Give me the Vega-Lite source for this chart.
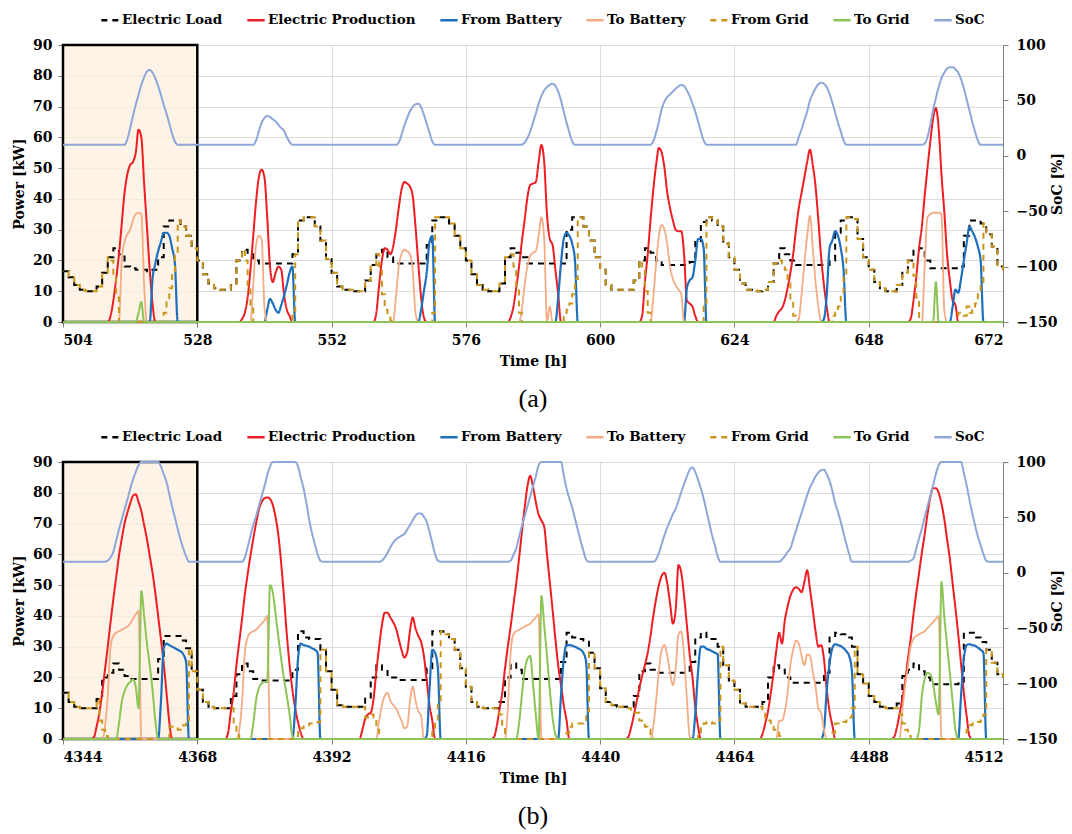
{
"$schema":"https://vega.github.io/schema/vega-lite/v6.json",
"background":"white",
"padding":{"left":12,"top":9,"right":0,"bottom":0},
"bounds":"flush",
"spacing":140,
"config":{
"view":{"stroke":"#808080","strokeWidth":1},
"axis":{"labelFont":"DejaVu Serif","labelFontSize":14,"labelFontWeight":"bold","labelColor":"#000","titleFont":"DejaVu Serif","titleFontSize":14,"titleFontWeight":"bold","titleColor":"#000","domainColor":"#7f7f7f","tickColor":"#7f7f7f","gridColor":"#dcdcdc","tickSize":5},
"legend":{"labelFont":"DejaVu Serif","labelFontSize":13.5,"labelFontWeight":"bold","labelColor":"#000","labelLimit":400},
"title":{"font":"Liberation Serif"}
},
"resolve":{"scale":{"color":"independent","strokeDash":"independent"},"legend":{"color":"independent","strokeDash":"independent"}},
"datasets":{
"aL":[{"t":504,"v":16.5},{"t":505,"v":14.5},{"t":506,"v":12},{"t":507,"v":10.5},{"t":508,"v":10},{"t":509,"v":10},{"t":510,"v":11.5},{"t":511,"v":16},{"t":512,"v":21},{"t":513,"v":24},{"t":514,"v":22},{"t":515,"v":18},{"t":516,"v":17.5},{"t":517,"v":17},{"t":518,"v":17},{"t":519,"v":16.5},{"t":520,"v":17},{"t":521,"v":21},{"t":522,"v":31},{"t":523,"v":33},{"t":524,"v":33},{"t":525,"v":31},{"t":526,"v":28},{"t":527,"v":24},
{"t":528,"v":20},{"t":529,"v":15.5},{"t":530,"v":12.5},{"t":531,"v":11},{"t":532,"v":10.5},{"t":533,"v":10.5},{"t":534,"v":12},{"t":535,"v":20},{"t":536,"v":23.5},{"t":537,"v":22},{"t":538,"v":20},{"t":539,"v":19},{"t":544,"v":19},{"t":545,"v":22},{"t":546,"v":33},{"t":547,"v":34},{"t":548,"v":34},{"t":549,"v":31},{"t":550,"v":26.5},{"t":551,"v":20.5},
{"t":552,"v":16},{"t":553,"v":11.5},{"t":554,"v":10.5},{"t":555,"v":10.5},{"t":556,"v":10},{"t":557,"v":10},{"t":558,"v":13.5},{"t":559,"v":18.5},{"t":560,"v":22},{"t":561,"v":23.5},{"t":562,"v":21},{"t":563,"v":19},{"t":568,"v":19},{"t":569,"v":25},{"t":570,"v":33},{"t":571,"v":34},{"t":572,"v":34},{"t":573,"v":32},{"t":574,"v":28},{"t":575,"v":24},
{"t":576,"v":20},{"t":577,"v":15.5},{"t":578,"v":12},{"t":579,"v":10.5},{"t":580,"v":10},{"t":581,"v":10},{"t":582,"v":12.5},{"t":583,"v":21},{"t":584,"v":24},{"t":585,"v":22.5},{"t":586,"v":21},{"t":587,"v":19},{"t":593,"v":19},{"t":594,"v":30},{"t":595,"v":34},{"t":596,"v":34},{"t":597,"v":31},{"t":598,"v":26.5},{"t":599,"v":21},
{"t":600,"v":17},{"t":601,"v":12},{"t":602,"v":10.5},{"t":606,"v":13.5},{"t":607,"v":20},{"t":608,"v":24},{"t":609,"v":22.5},{"t":610,"v":20},{"t":611,"v":18.5},{"t":616,"v":19.5},{"t":617,"v":26},{"t":618,"v":32.5},{"t":619,"v":34},{"t":620,"v":33},{"t":621,"v":31},{"t":622,"v":25.5},{"t":623,"v":21},
{"t":624,"v":17},{"t":625,"v":12.5},{"t":626,"v":10.5},{"t":628,"v":10},{"t":629,"v":10.5},{"t":630,"v":13},{"t":631,"v":19},{"t":632,"v":24},{"t":633,"v":22},{"t":634,"v":20},{"t":635,"v":18.5},{"t":641,"v":20},{"t":642,"v":29},{"t":643,"v":33},{"t":644,"v":34},{"t":645,"v":33.5},{"t":646,"v":27},{"t":647,"v":21},
{"t":648,"v":17},{"t":649,"v":13},{"t":650,"v":11},{"t":651,"v":10},{"t":653,"v":12},{"t":654,"v":16},{"t":655,"v":20},{"t":656,"v":23.5},{"t":657,"v":24},{"t":658,"v":20},{"t":659,"v":17.5},{"t":664,"v":18},{"t":665,"v":28},{"t":666,"v":33},{"t":667,"v":33},{"t":668,"v":32},{"t":669,"v":28.5},{"t":670,"v":24.5},{"t":671,"v":18},{"t":672,"v":17}],
"aP":[{"t":504,"v":0},{"t":512,"v":0},{"t":512.5,"v":2},{"t":513,"v":7},{"t":513.5,"v":14},{"t":514,"v":22},{"t":514.5,"v":32},{"t":515,"v":42},{"t":515.5,"v":48},{"t":516,"v":51},{"t":516.5,"v":52},{"t":517,"v":55},{"t":517.5,"v":62.5},{"t":518,"v":60},{"t":518.5,"v":45},{"t":519,"v":31},{"t":519.5,"v":17},{"t":520,"v":6},{"t":520.5,"v":0},
{"t":535.5,"v":0},{"t":536,"v":1},{"t":536.5,"v":3},{"t":537,"v":8},{"t":537.5,"v":17},{"t":538,"v":28},{"t":538.5,"v":39},{"t":539,"v":47},{"t":539.5,"v":49.5},{"t":540,"v":47},{"t":540.5,"v":34},{"t":541,"v":18},{"t":541.5,"v":13},{"t":542,"v":16},{"t":542.5,"v":18},{"t":543,"v":17},{"t":543.5,"v":9},{"t":544,"v":4},{"t":544.5,"v":2},{"t":545,"v":0},
{"t":559.5,"v":0},{"t":560,"v":3},{"t":560.5,"v":12},{"t":561,"v":20},{"t":561.5,"v":24},{"t":562,"v":23.5},{"t":562.5,"v":22},{"t":563,"v":24.5},{"t":563.5,"v":30},{"t":564,"v":37},{"t":564.5,"v":43},{"t":565,"v":45.5},{"t":565.5,"v":45},{"t":566,"v":44},{"t":566.5,"v":41},{"t":567,"v":31},{"t":567.5,"v":19},{"t":568,"v":8},{"t":568.5,"v":1.5},{"t":569,"v":0},
{"t":583.5,"v":0},{"t":584,"v":1.5},{"t":584.5,"v":5},{"t":585,"v":11},{"t":585.5,"v":18},{"t":586,"v":26},{"t":586.5,"v":33},{"t":587,"v":40.5},{"t":587.5,"v":44.5},{"t":588,"v":45},{"t":588.5,"v":45.5},{"t":589,"v":52},{"t":589.5,"v":57.5},{"t":590,"v":52},{"t":590.5,"v":35},{"t":591,"v":27},{"t":591.5,"v":25},{"t":592,"v":17},{"t":592.5,"v":9},{"t":593,"v":0},
{"t":607,"v":0},{"t":607.5,"v":2},{"t":608,"v":13},{"t":608.5,"v":22},{"t":609,"v":33},{"t":609.5,"v":43},{"t":610,"v":51},{"t":610.5,"v":56.5},{"t":611,"v":55},{"t":611.5,"v":50},{"t":612,"v":42},{"t":612.5,"v":37},{"t":613,"v":33},{"t":613.5,"v":30},{"t":614,"v":29.5},{"t":614.5,"v":29.5},{"t":615,"v":22},{"t":615.5,"v":7},{"t":616,"v":6},{"t":616.5,"v":5},{"t":617,"v":2},{"t":617.5,"v":0},
{"t":631,"v":0},{"t":631.5,"v":2},{"t":632,"v":3.5},{"t":632.5,"v":4.5},{"t":633,"v":7},{"t":633.5,"v":11},{"t":634,"v":16},{"t":634.5,"v":22},{"t":635,"v":30},{"t":635.5,"v":37},{"t":636,"v":42},{"t":636.5,"v":47},{"t":637,"v":52},{"t":637.5,"v":56},{"t":638,"v":51},{"t":638.5,"v":44},{"t":639,"v":33},{"t":639.5,"v":21},{"t":640,"v":12},{"t":640.5,"v":5},{"t":641,"v":0},
{"t":655,"v":0},{"t":655.5,"v":1},{"t":656,"v":7},{"t":656.5,"v":14.5},{"t":657,"v":24},{"t":657.5,"v":31},{"t":658,"v":41},{"t":658.5,"v":50},{"t":659,"v":58.5},{"t":659.5,"v":66},{"t":660,"v":69.5},{"t":660.5,"v":63},{"t":661,"v":48},{"t":661.5,"v":36},{"t":662,"v":22},{"t":662.5,"v":13.5},{"t":663,"v":7},{"t":663.5,"v":5.5},{"t":664,"v":0},{"t":672,"v":0}],
"aFB":[{"t":504,"v":0},{"t":519.5,"v":0},{"t":520,"v":14},{"t":520.5,"v":19},{"t":521,"v":23},{"t":521.5,"v":26},{"t":522,"v":29},{"t":522.5,"v":29},{"t":523,"v":28},{"t":523.5,"v":24},{"t":524,"v":19},{"t":524.5,"v":0},
{"t":540,"v":0},{"t":540.5,"v":4},{"t":541,"v":7.5},{"t":541.5,"v":6},{"t":542,"v":4},{"t":542.5,"v":3},{"t":543,"v":5.5},{"t":543.5,"v":8.5},{"t":544,"v":12},{"t":544.5,"v":16},{"t":545,"v":18},{"t":545.5,"v":0},
{"t":567.5,"v":0},{"t":568,"v":4},{"t":568.5,"v":10},{"t":569,"v":16},{"t":569.5,"v":26},{"t":570,"v":28},{"t":570.5,"v":0},
{"t":592,"v":0},{"t":592.5,"v":8},{"t":593,"v":19},{"t":593.5,"v":27},{"t":594,"v":29},{"t":594.5,"v":28},{"t":595,"v":25.5},{"t":595.5,"v":20},{"t":596,"v":0},
{"t":615,"v":0},{"t":615.5,"v":11},{"t":616,"v":13.5},{"t":616.5,"v":14.5},{"t":617,"v":20},{"t":617.5,"v":27},{"t":618,"v":27},{"t":618.5,"v":24},{"t":619,"v":0},
{"t":639.5,"v":0},{"t":640,"v":1},{"t":640.5,"v":9},{"t":641,"v":24},{"t":641.5,"v":26.5},{"t":642,"v":29.5},{"t":642.5,"v":28},{"t":643,"v":24},{"t":643.5,"v":17},{"t":644,"v":0},
{"t":662.5,"v":0},{"t":663,"v":5},{"t":663.5,"v":10.5},{"t":664,"v":9.5},{"t":664.5,"v":14},{"t":665,"v":20},{"t":665.5,"v":25.5},{"t":666,"v":31},{"t":666.5,"v":29.5},{"t":667,"v":27.5},{"t":667.5,"v":24.5},{"t":668,"v":20},{"t":668.5,"v":0},{"t":672,"v":0}],
"aTB":[{"t":504,"v":0},{"t":514,"v":0},{"t":514.5,"v":20},{"t":515,"v":26},{"t":515.5,"v":28.5},{"t":516,"v":30},{"t":516.5,"v":33},{"t":517,"v":35},{"t":517.5,"v":35.5},{"t":518,"v":35},{"t":518.5,"v":12},{"t":519,"v":0},
{"t":537.5,"v":0},{"t":538,"v":12},{"t":538.5,"v":25},{"t":539,"v":28},{"t":539.5,"v":27},{"t":540,"v":5},{"t":540.5,"v":0},
{"t":563,"v":0},{"t":563.5,"v":8},{"t":564,"v":18},{"t":564.5,"v":22},{"t":565,"v":23.5},{"t":565.5,"v":23},{"t":566,"v":22},{"t":566.5,"v":17},{"t":567,"v":3},{"t":567.5,"v":0},
{"t":585.5,"v":0},{"t":586,"v":4},{"t":586.5,"v":12},{"t":587,"v":18},{"t":587.5,"v":21.5},{"t":588,"v":22.5},{"t":588.5,"v":23},{"t":589,"v":28},{"t":589.5,"v":34},{"t":590,"v":27},{"t":590.5,"v":0},{"t":591,"v":5},{"t":591.5,"v":0},
{"t":609,"v":0},{"t":609.5,"v":8},{"t":610,"v":19},{"t":610.5,"v":28},{"t":611,"v":31.5},{"t":611.5,"v":30},{"t":612,"v":25},{"t":612.5,"v":18},{"t":613,"v":14},{"t":613.5,"v":12},{"t":614,"v":10.5},{"t":614.5,"v":9},{"t":615,"v":0},
{"t":635,"v":0},{"t":635.5,"v":1},{"t":636,"v":9},{"t":636.5,"v":19},{"t":637,"v":28},{"t":637.5,"v":34.5},{"t":638,"v":24},{"t":638.5,"v":13},{"t":639,"v":5},{"t":639.5,"v":0},
{"t":657.5,"v":0},{"t":658,"v":18},{"t":658.5,"v":34},{"t":659,"v":35},{"t":659.5,"v":35.5},{"t":660,"v":35.5},{"t":660.5,"v":35.5},{"t":661,"v":35},{"t":661.5,"v":4},{"t":662,"v":0},{"t":672,"v":0}],
"aFG":[{"t":504,"v":16.5},{"t":505,"v":14.5},{"t":506,"v":12},{"t":507,"v":10.5},{"t":508,"v":10},{"t":510,"v":11.5},{"t":511,"v":16},{"t":512,"v":21},{"t":512.5,"v":20},{"t":513,"v":15},{"t":513.5,"v":8},{"t":514,"v":0},{"t":522,"v":3},{"t":522.5,"v":7},{"t":523,"v":11},{"t":523.5,"v":16},{"t":524,"v":22},{"t":524.5,"v":33},{"t":525,"v":31},{"t":526,"v":28},{"t":527,"v":24},
{"t":528,"v":20},{"t":529,"v":15.5},{"t":530,"v":12.5},{"t":531,"v":11},{"t":532,"v":10.5},{"t":534,"v":12},{"t":535,"v":20},{"t":536,"v":23.5},{"t":536.5,"v":20},{"t":537,"v":12},{"t":537.5,"v":5},{"t":538,"v":0},{"t":545,"v":2},{"t":545.5,"v":22},{"t":546,"v":33},{"t":547,"v":34},{"t":549,"v":31},{"t":550,"v":26.5},{"t":551,"v":20.5},
{"t":552,"v":16},{"t":553,"v":11.5},{"t":554,"v":10.5},{"t":556,"v":10},{"t":558,"v":13.5},{"t":559,"v":18.5},{"t":560,"v":22},{"t":560.5,"v":17},{"t":561,"v":9},{"t":561.5,"v":4},{"t":562,"v":1.5},{"t":562.5,"v":0.5},{"t":563,"v":0},{"t":570,"v":3},{"t":570.5,"v":34},{"t":573,"v":32},{"t":574,"v":28},{"t":575,"v":24},
{"t":576,"v":20},{"t":577,"v":15.5},{"t":578,"v":12},{"t":579,"v":10.5},{"t":580,"v":10},{"t":582,"v":12.5},{"t":583,"v":21},{"t":584,"v":22},{"t":584.5,"v":18},{"t":585,"v":11},{"t":585.5,"v":3},{"t":586,"v":0},{"t":593.5,"v":2},{"t":594,"v":4},{"t":594.5,"v":6},{"t":595,"v":9},{"t":595.5,"v":14},{"t":596,"v":34},{"t":597,"v":31},{"t":598,"v":26.5},{"t":599,"v":21},
{"t":600,"v":17},{"t":601,"v":12},{"t":602,"v":10.5},{"t":606,"v":13.5},{"t":607,"v":20},{"t":607.5,"v":18},{"t":608,"v":10},{"t":608.5,"v":3},{"t":609,"v":0},{"t":618.5,"v":5},{"t":619,"v":34},{"t":620,"v":33},{"t":621,"v":31},{"t":622,"v":25.5},{"t":623,"v":21},
{"t":624,"v":17},{"t":625,"v":12.5},{"t":626,"v":10.5},{"t":628,"v":10},{"t":629,"v":10.5},{"t":630,"v":13},{"t":631,"v":19},{"t":632,"v":20},{"t":632.5,"v":19},{"t":633,"v":17},{"t":633.5,"v":13},{"t":634,"v":7},{"t":634.5,"v":2},{"t":635,"v":0},{"t":641.5,"v":2},{"t":642,"v":3},{"t":642.5,"v":5},{"t":643,"v":9},{"t":643.5,"v":15},{"t":644,"v":34},{"t":645,"v":33.5},{"t":646,"v":27},{"t":647,"v":21},
{"t":648,"v":17},{"t":649,"v":13},{"t":650,"v":11},{"t":651,"v":10},{"t":653,"v":12},{"t":654,"v":16},{"t":655,"v":20},{"t":656,"v":15},{"t":656.5,"v":8},{"t":657,"v":0},{"t":664,"v":3},{"t":665,"v":2},{"t":665.5,"v":5},{"t":666,"v":3},{"t":666.5,"v":4},{"t":667,"v":6},{"t":667.5,"v":9},{"t":668,"v":13},{"t":668.5,"v":32},{"t":669,"v":28.5},{"t":670,"v":24.5},{"t":671,"v":18},{"t":672,"v":17}],
"aTG":[{"t":504,"v":0},{"t":517,"v":0},{"t":517.5,"v":3},{"t":518,"v":6.5},{"t":518.5,"v":0},{"t":659.5,"v":0},{"t":660,"v":13},{"t":660.5,"v":0},{"t":672,"v":0}],
"aS":[{"t":504,"v":10},{"t":515,"v":10},{"t":515.5,"v":15},{"t":516,"v":25},{"t":516.5,"v":36},{"t":517,"v":46},{"t":517.5,"v":55},{"t":518,"v":64},{"t":518.5,"v":71},{"t":519,"v":76},{"t":519.5,"v":77.5},{"t":520,"v":75},{"t":520.5,"v":70},{"t":521,"v":63},{"t":521.5,"v":55},{"t":522,"v":46},{"t":522.5,"v":38},{"t":523,"v":29},{"t":523.5,"v":20},{"t":524,"v":13},{"t":524.5,"v":10},
{"t":538,"v":10},{"t":538.5,"v":14},{"t":539,"v":22},{"t":539.5,"v":30},{"t":540,"v":34},{"t":540.5,"v":36},{"t":541,"v":35},{"t":541.5,"v":33},{"t":542,"v":31},{"t":542.5,"v":28},{"t":543,"v":25},{"t":543.5,"v":22.5},{"t":544,"v":17},{"t":544.5,"v":12.5},{"t":545,"v":10},
{"t":563.5,"v":10},{"t":564,"v":12},{"t":564.5,"v":19},{"t":565,"v":27},{"t":565.5,"v":34},{"t":566,"v":40},{"t":566.5,"v":44},{"t":567,"v":46.5},{"t":567.5,"v":47},{"t":568,"v":44},{"t":568.5,"v":37},{"t":569,"v":29},{"t":569.5,"v":21},{"t":570,"v":13},{"t":570.5,"v":10},
{"t":586,"v":10},{"t":586.5,"v":12},{"t":587,"v":16},{"t":587.5,"v":22},{"t":588,"v":30},{"t":588.5,"v":38},{"t":589,"v":47},{"t":589.5,"v":54},{"t":590,"v":59},{"t":590.5,"v":62},{"t":591,"v":64},{"t":591.5,"v":65},{"t":592,"v":63},{"t":592.5,"v":58},{"t":593,"v":50},{"t":593.5,"v":40},{"t":594,"v":30},{"t":594.5,"v":21},{"t":595,"v":13},{"t":595.5,"v":10},
{"t":609,"v":10},{"t":609.5,"v":13},{"t":610,"v":21},{"t":610.5,"v":31},{"t":611,"v":42},{"t":611.5,"v":49},{"t":612,"v":53},{"t":612.5,"v":55.5},{"t":613,"v":58},{"t":613.5,"v":60.5},{"t":614,"v":62.5},{"t":614.5,"v":64},{"t":615,"v":63},{"t":615.5,"v":59},{"t":616,"v":54},{"t":616.5,"v":47},{"t":617,"v":40},{"t":617.5,"v":31},{"t":618,"v":22},{"t":618.5,"v":14},{"t":619,"v":10},
{"t":635,"v":10},{"t":635.5,"v":17},{"t":636,"v":24},{"t":636.5,"v":32},{"t":637,"v":40},{"t":637.5,"v":50},{"t":638,"v":56},{"t":638.5,"v":61},{"t":639,"v":64.5},{"t":639.5,"v":66},{"t":640,"v":65},{"t":640.5,"v":62},{"t":641,"v":56},{"t":641.5,"v":48},{"t":642,"v":39},{"t":642.5,"v":30},{"t":643,"v":22},{"t":643.5,"v":14},{"t":644,"v":10},
{"t":657.5,"v":10},{"t":658,"v":11},{"t":658.5,"v":17},{"t":659,"v":28},{"t":659.5,"v":41},{"t":660,"v":52},{"t":660.5,"v":62},{"t":661,"v":70},{"t":661.5,"v":75},{"t":662,"v":78.5},{"t":662.5,"v":80},{"t":663,"v":80},{"t":663.5,"v":78},{"t":664,"v":75},{"t":664.5,"v":69},{"t":665,"v":61},{"t":665.5,"v":51},{"t":666,"v":41},{"t":666.5,"v":31},{"t":667,"v":22},{"t":667.5,"v":14},{"t":668,"v":10},{"t":672,"v":10}],
"bL":[{"t":4344,"v":15},{"t":4345,"v":12},{"t":4346,"v":10.5},{"t":4347,"v":10},{"t":4350,"v":13},{"t":4351,"v":20},{"t":4352,"v":21.5},{"t":4353,"v":24.5},{"t":4354,"v":22.5},{"t":4355,"v":20.5},{"t":4356,"v":19.5},{"t":4361,"v":26},{"t":4362,"v":33.5},{"t":4365,"v":32},{"t":4366,"v":29.5},{"t":4367,"v":22},
{"t":4368,"v":16},{"t":4369,"v":12},{"t":4370,"v":10.5},{"t":4371,"v":10},{"t":4374,"v":14},{"t":4375,"v":21},{"t":4376,"v":24.5},{"t":4377,"v":22},{"t":4378,"v":19.5},{"t":4379,"v":19},{"t":4385,"v":22.5},{"t":4386,"v":35},{"t":4387,"v":33},{"t":4388,"v":32.5},{"t":4390,"v":29},{"t":4391,"v":22},
{"t":4392,"v":16},{"t":4393,"v":11},{"t":4394,"v":10.5},{"t":4398,"v":13.5},{"t":4399,"v":20},{"t":4400,"v":24},{"t":4401,"v":22.5},{"t":4402,"v":20},{"t":4404,"v":19.2},{"t":4409,"v":23},{"t":4410,"v":35},{"t":4412,"v":34},{"t":4413,"v":32.5},{"t":4414,"v":29},{"t":4415,"v":23},
{"t":4416,"v":17},{"t":4417,"v":12},{"t":4418,"v":10.5},{"t":4419,"v":10},{"t":4422,"v":12},{"t":4423,"v":20},{"t":4424,"v":24.5},{"t":4425,"v":22.5},{"t":4426,"v":19.5},{"t":4433,"v":25},{"t":4434,"v":34.5},{"t":4435,"v":33},{"t":4436,"v":32.5},{"t":4437,"v":32},{"t":4438,"v":28},{"t":4439,"v":23},
{"t":4440,"v":16.5},{"t":4441,"v":12},{"t":4442,"v":11},{"t":4443,"v":10.5},{"t":4446,"v":14},{"t":4447,"v":22},{"t":4448,"v":24.5},{"t":4449,"v":22.5},{"t":4450,"v":21.5},{"t":4456,"v":25},{"t":4457,"v":33},{"t":4458,"v":34.5},{"t":4459,"v":32.5},{"t":4461,"v":30},{"t":4462,"v":24},{"t":4463,"v":19},
{"t":4464,"v":16},{"t":4465,"v":11.5},{"t":4466,"v":10.5},{"t":4469,"v":12},{"t":4470,"v":20},{"t":4471,"v":24},{"t":4472,"v":22.5},{"t":4473,"v":20},{"t":4474,"v":18.3},{"t":4480,"v":21.5},{"t":4481,"v":33},{"t":4482,"v":34.5},{"t":4483,"v":34},{"t":4484,"v":33},{"t":4485,"v":30},{"t":4486,"v":21},{"t":4487,"v":18},
{"t":4488,"v":14},{"t":4489,"v":12},{"t":4490,"v":10.5},{"t":4491,"v":10},{"t":4493,"v":11.5},{"t":4494,"v":20.5},{"t":4495,"v":22.5},{"t":4496,"v":24.5},{"t":4497,"v":22},{"t":4498,"v":20},{"t":4499,"v":17.8},{"t":4504,"v":18},{"t":4505,"v":34.5},{"t":4507,"v":33},{"t":4508,"v":31.5},{"t":4509,"v":29},{"t":4510,"v":24.8},{"t":4511,"v":21},{"t":4512,"v":20}],
"bP":[{"t":4344,"v":0},{"t":4349,"v":0},{"t":4349.5,"v":0.5},{"t":4350,"v":4},{"t":4350.5,"v":8.5},{"t":4351,"v":15},{"t":4351.5,"v":22.5},{"t":4352,"v":30},{"t":4352.5,"v":38},{"t":4353,"v":45.5},{"t":4353.5,"v":52.5},{"t":4354,"v":59.5},{"t":4354.5,"v":65},{"t":4355,"v":70},{"t":4355.5,"v":73.5},{"t":4356,"v":76.5},{"t":4356.5,"v":79},{"t":4357,"v":79.5},{"t":4357.5,"v":77},{"t":4358,"v":74},{"t":4358.5,"v":69.5},{"t":4359,"v":65},{"t":4359.5,"v":59.5},{"t":4360,"v":54},{"t":4360.5,"v":47.5},{"t":4361,"v":40},{"t":4361.5,"v":32.5},{"t":4362,"v":24.5},{"t":4362.5,"v":15},{"t":4363,"v":5.5},{"t":4363.5,"v":0},
{"t":4373,"v":0},{"t":4373.5,"v":2},{"t":4374,"v":9},{"t":4374.5,"v":15},{"t":4375,"v":24},{"t":4375.5,"v":31.5},{"t":4376,"v":39},{"t":4376.5,"v":47},{"t":4377,"v":53.5},{"t":4377.5,"v":59.5},{"t":4378,"v":65},{"t":4378.5,"v":70},{"t":4379,"v":74.5},{"t":4379.5,"v":77},{"t":4380,"v":78.2},{"t":4380.5,"v":78.5},{"t":4381,"v":78},{"t":4381.5,"v":76},{"t":4382,"v":72},{"t":4382.5,"v":66},{"t":4383,"v":57},{"t":4383.5,"v":46},{"t":4384,"v":34},{"t":4384.5,"v":24},{"t":4385,"v":16},{"t":4385.5,"v":10},{"t":4386,"v":5.5},{"t":4386.5,"v":2},{"t":4387,"v":0},
{"t":4397,"v":0},{"t":4397.5,"v":3},{"t":4398,"v":6.5},{"t":4398.5,"v":8},{"t":4399,"v":8.5},{"t":4399.5,"v":13},{"t":4400,"v":22},{"t":4400.5,"v":30},{"t":4401,"v":37},{"t":4401.5,"v":41},{"t":4402,"v":41},{"t":4402.5,"v":39.5},{"t":4403,"v":38},{"t":4403.5,"v":36},{"t":4404,"v":32.5},{"t":4404.5,"v":29},{"t":4405,"v":26.5},{"t":4405.5,"v":28},{"t":4406,"v":35},{"t":4406.5,"v":39.5},{"t":4407,"v":36},{"t":4407.5,"v":33.5},{"t":4408,"v":31.5},{"t":4408.5,"v":27},{"t":4409,"v":19},{"t":4409.5,"v":11},{"t":4410,"v":6},{"t":4410.5,"v":0},
{"t":4420.5,"v":0},{"t":4421,"v":0.5},{"t":4421.5,"v":4},{"t":4422,"v":9.5},{"t":4422.5,"v":15},{"t":4423,"v":23},{"t":4423.5,"v":30},{"t":4424,"v":36.5},{"t":4424.5,"v":43.5},{"t":4425,"v":50.5},{"t":4425.5,"v":58.5},{"t":4426,"v":67},{"t":4426.5,"v":75},{"t":4427,"v":82},{"t":4427.5,"v":85.5},{"t":4428,"v":82},{"t":4428.5,"v":77},{"t":4429,"v":73},{"t":4429.5,"v":71},{"t":4430,"v":69},{"t":4430.5,"v":60},{"t":4431,"v":51},{"t":4431.5,"v":42},{"t":4432,"v":32.5},{"t":4432.5,"v":24},{"t":4433,"v":17.5},{"t":4433.5,"v":11},{"t":4434,"v":6},{"t":4434.5,"v":0},
{"t":4444.5,"v":0},{"t":4445,"v":0.5},{"t":4445.5,"v":3.5},{"t":4446,"v":7.5},{"t":4446.5,"v":12},{"t":4447,"v":16.5},{"t":4447.5,"v":20.5},{"t":4448,"v":24},{"t":4448.5,"v":28},{"t":4449,"v":33.5},{"t":4449.5,"v":40},{"t":4450,"v":45.5},{"t":4450.5,"v":50},{"t":4451,"v":53},{"t":4451.5,"v":54},{"t":4452,"v":50.5},{"t":4452.5,"v":44},{"t":4453,"v":37.5},{"t":4453.5,"v":42},{"t":4454,"v":56.5},{"t":4454.5,"v":54},{"t":4455,"v":46.5},{"t":4455.5,"v":37},{"t":4456,"v":27.5},{"t":4456.5,"v":20},{"t":4457,"v":10.5},{"t":4457.5,"v":4},{"t":4458,"v":0},
{"t":4468.5,"v":0},{"t":4469,"v":1.5},{"t":4469.5,"v":5},{"t":4470,"v":9},{"t":4470.5,"v":15},{"t":4471,"v":21.5},{"t":4471.5,"v":29},{"t":4472,"v":34.5},{"t":4472.5,"v":31},{"t":4473,"v":38.5},{"t":4473.5,"v":43},{"t":4474,"v":46.5},{"t":4474.5,"v":48.5},{"t":4475,"v":49.3},{"t":4475.5,"v":48.8},{"t":4476,"v":47.7},{"t":4476.5,"v":51},{"t":4477,"v":54.8},{"t":4477.5,"v":48.8},{"t":4478,"v":42},{"t":4478.5,"v":35},{"t":4479,"v":30},{"t":4479.5,"v":30.5},{"t":4480,"v":26},{"t":4480.5,"v":16},{"t":4481,"v":9},{"t":4481.5,"v":4.5},{"t":4482,"v":0},
{"t":4492,"v":0},{"t":4492.5,"v":0.5},{"t":4493,"v":3.5},{"t":4493.5,"v":8},{"t":4494,"v":13},{"t":4494.5,"v":18.5},{"t":4495,"v":26},{"t":4495.5,"v":32.5},{"t":4496,"v":40.5},{"t":4496.5,"v":47.5},{"t":4497,"v":54},{"t":4497.5,"v":60.5},{"t":4498,"v":66.5},{"t":4498.5,"v":73},{"t":4499,"v":78.5},{"t":4499.5,"v":81.5},{"t":4500,"v":81.5},{"t":4500.5,"v":80},{"t":4501,"v":76.5},{"t":4501.5,"v":71.5},{"t":4502,"v":65},{"t":4502.5,"v":58.5},{"t":4503,"v":50.5},{"t":4503.5,"v":42.5},{"t":4504,"v":34},{"t":4504.5,"v":24.5},{"t":4505,"v":15},{"t":4505.5,"v":7.5},{"t":4506,"v":1},{"t":4506.5,"v":0},{"t":4512,"v":0}],
"bFB":[{"t":4344,"v":0},{"t":4361,"v":0},{"t":4361.5,"v":12},{"t":4362,"v":29.5},{"t":4362.5,"v":31},{"t":4363,"v":30.5},{"t":4363.5,"v":30},{"t":4364,"v":29.5},{"t":4364.5,"v":29},{"t":4365,"v":28.5},{"t":4365.5,"v":27.5},{"t":4366,"v":25},{"t":4366.5,"v":0},
{"t":4385,"v":0},{"t":4385.5,"v":10},{"t":4386,"v":26},{"t":4386.5,"v":31},{"t":4387,"v":30.5},{"t":4387.5,"v":30.3},{"t":4388,"v":30},{"t":4388.5,"v":29.5},{"t":4389,"v":29},{"t":4389.5,"v":28},{"t":4390,"v":0},
{"t":4408.5,"v":0},{"t":4409,"v":1},{"t":4409.5,"v":16},{"t":4410,"v":29},{"t":4410.5,"v":28},{"t":4411,"v":23},{"t":4411.5,"v":0},
{"t":4432.5,"v":0},{"t":4433,"v":14},{"t":4433.5,"v":26},{"t":4434,"v":30.5},{"t":4434.5,"v":30.5},{"t":4435,"v":30.3},{"t":4435.5,"v":30},{"t":4436,"v":29.5},{"t":4436.5,"v":29},{"t":4437,"v":28},{"t":4437.5,"v":25},{"t":4438,"v":0},
{"t":4456.5,"v":0},{"t":4457,"v":8},{"t":4457.5,"v":22},{"t":4458,"v":30},{"t":4458.5,"v":30},{"t":4459,"v":29.3},{"t":4459.5,"v":29},{"t":4460,"v":28.5},{"t":4460.5,"v":28},{"t":4461,"v":27.5},{"t":4461.5,"v":0},
{"t":4479.5,"v":0},{"t":4480,"v":3},{"t":4480.5,"v":16},{"t":4481,"v":24.5},{"t":4481.5,"v":29.5},{"t":4482,"v":30.8},{"t":4482.5,"v":30.5},{"t":4483,"v":30.2},{"t":4483.5,"v":29.5},{"t":4484,"v":28.5},{"t":4484.5,"v":27},{"t":4485,"v":22},{"t":4485.5,"v":0},
{"t":4504,"v":0},{"t":4504.5,"v":14},{"t":4505,"v":26},{"t":4505.5,"v":30.5},{"t":4506,"v":30.8},{"t":4506.5,"v":30.5},{"t":4507,"v":30.3},{"t":4507.5,"v":29.7},{"t":4508,"v":29},{"t":4508.5,"v":28},{"t":4509,"v":0},{"t":4512,"v":0}],
"bTB":[{"t":4344,"v":0},{"t":4351,"v":0},{"t":4351.5,"v":4},{"t":4352,"v":14},{"t":4352.5,"v":30},{"t":4353,"v":33.5},{"t":4353.5,"v":34.5},{"t":4354,"v":35},{"t":4354.5,"v":35.5},{"t":4355,"v":36},{"t":4355.5,"v":36.5},{"t":4356,"v":37.5},{"t":4356.5,"v":39},{"t":4357,"v":40.5},{"t":4357.5,"v":41.5},{"t":4358,"v":0},
{"t":4375,"v":0},{"t":4375.5,"v":3},{"t":4376,"v":12},{"t":4376.5,"v":28},{"t":4377,"v":33},{"t":4377.5,"v":34.5},{"t":4378,"v":35},{"t":4378.5,"v":35.5},{"t":4379,"v":36.5},{"t":4379.5,"v":37.5},{"t":4380,"v":38.5},{"t":4380.5,"v":40},{"t":4381,"v":0},
{"t":4400,"v":0},{"t":4400.5,"v":6},{"t":4401,"v":11},{"t":4401.5,"v":14},{"t":4402,"v":15},{"t":4402.5,"v":12.5},{"t":4403,"v":11},{"t":4403.5,"v":10},{"t":4404,"v":8},{"t":4404.5,"v":6},{"t":4405,"v":3.5},{"t":4405.5,"v":4},{"t":4406,"v":12},{"t":4406.5,"v":17},{"t":4407,"v":12.5},{"t":4407.5,"v":9},{"t":4408,"v":7.5},{"t":4408.5,"v":0},
{"t":4423,"v":0},{"t":4423.5,"v":10},{"t":4424,"v":28},{"t":4424.5,"v":34},{"t":4425,"v":35},{"t":4425.5,"v":35.5},{"t":4426,"v":36},{"t":4426.5,"v":36.5},{"t":4427,"v":37},{"t":4427.5,"v":37.5},{"t":4428,"v":38.5},{"t":4428.5,"v":39.5},{"t":4429,"v":40.5},{"t":4429.5,"v":0},
{"t":4449,"v":0},{"t":4449.5,"v":4},{"t":4450,"v":12.5},{"t":4450.5,"v":22},{"t":4451,"v":29},{"t":4451.5,"v":30.5},{"t":4452,"v":27},{"t":4452.5,"v":21.5},{"t":4453,"v":17.5},{"t":4453.5,"v":23},{"t":4454,"v":34},{"t":4454.5,"v":35},{"t":4455,"v":27},{"t":4455.5,"v":13},{"t":4456,"v":1},{"t":4456.5,"v":0},
{"t":4471.5,"v":0},{"t":4472,"v":6},{"t":4472.5,"v":6},{"t":4473,"v":9},{"t":4473.5,"v":15},{"t":4474,"v":24},{"t":4474.5,"v":29},{"t":4475,"v":32},{"t":4475.5,"v":31},{"t":4476,"v":27},{"t":4476.5,"v":24},{"t":4477,"v":27.5},{"t":4477.5,"v":27},{"t":4478,"v":22},{"t":4478.5,"v":17},{"t":4479,"v":10},{"t":4479.5,"v":8.5},{"t":4480,"v":3},{"t":4480.5,"v":0},
{"t":4493.5,"v":0},{"t":4494,"v":9},{"t":4494.5,"v":17},{"t":4495,"v":23.5},{"t":4495.5,"v":30},{"t":4496,"v":32.5},{"t":4496.5,"v":33.5},{"t":4497,"v":34},{"t":4497.5,"v":34.5},{"t":4498,"v":35},{"t":4498.5,"v":36},{"t":4499,"v":37},{"t":4499.5,"v":38},{"t":4500,"v":39},{"t":4500.5,"v":40},{"t":4501,"v":0},{"t":4512,"v":0}],
"bFG":[{"t":4344,"v":15},{"t":4345,"v":12},{"t":4346,"v":10.5},{"t":4347,"v":10},{"t":4350,"v":13},{"t":4350.5,"v":6},{"t":4351,"v":3},{"t":4351.5,"v":1},{"t":4352,"v":0},{"t":4363,"v":4},{"t":4364.5,"v":3},{"t":4365,"v":3.5},{"t":4365.5,"v":4.5},{"t":4366,"v":5},{"t":4366.5,"v":29.5},{"t":4367,"v":22},
{"t":4368,"v":16},{"t":4369,"v":12},{"t":4370,"v":10.5},{"t":4371,"v":10},{"t":4374.5,"v":5},{"t":4375,"v":2},{"t":4375.5,"v":0},{"t":4386,"v":3},{"t":4386.5,"v":3.5},{"t":4387,"v":4.5},{"t":4388,"v":5},{"t":4389.5,"v":5.5},{"t":4390,"v":29},{"t":4391,"v":22},
{"t":4392,"v":16},{"t":4393,"v":11},{"t":4394,"v":10.5},{"t":4398,"v":7},{"t":4398.5,"v":7.5},{"t":4399,"v":8},{"t":4399.5,"v":7},{"t":4400,"v":3},{"t":4400.5,"v":0},{"t":4410,"v":3},{"t":4410.5,"v":6},{"t":4411,"v":12},{"t":4411.5,"v":35},{"t":4412,"v":34},{"t":4413,"v":32.5},{"t":4414,"v":29},{"t":4415,"v":23},
{"t":4416,"v":17},{"t":4417,"v":12},{"t":4418,"v":10.5},{"t":4419,"v":10},{"t":4422,"v":8},{"t":4422.5,"v":4},{"t":4423,"v":0},{"t":4434,"v":2},{"t":4434.5,"v":4},{"t":4435,"v":5},{"t":4437,"v":6},{"t":4437.5,"v":9},{"t":4438,"v":28},{"t":4439,"v":23},
{"t":4440,"v":16.5},{"t":4441,"v":12},{"t":4442,"v":11},{"t":4443,"v":10.5},{"t":4445,"v":10},{"t":4445.5,"v":9.5},{"t":4446,"v":8.5},{"t":4447,"v":6},{"t":4447.5,"v":5},{"t":4448,"v":4},{"t":4448.5,"v":3},{"t":4449,"v":1},{"t":4449.5,"v":0},{"t":4457.5,"v":1},{"t":4458,"v":4},{"t":4458.5,"v":5},{"t":4459,"v":5.5},{"t":4460,"v":5},{"t":4460.5,"v":5.5},{"t":4461,"v":6},{"t":4461.5,"v":30},{"t":4462,"v":24},{"t":4463,"v":19},
{"t":4464,"v":16},{"t":4465,"v":11.5},{"t":4466,"v":10.5},{"t":4469,"v":9},{"t":4469.5,"v":7},{"t":4470,"v":6},{"t":4470.5,"v":4},{"t":4471,"v":3},{"t":4472,"v":1},{"t":4472.5,"v":0},{"t":4481.5,"v":2},{"t":4482,"v":5},{"t":4483.5,"v":5.5},{"t":4484,"v":6},{"t":4484.5,"v":7},{"t":4485,"v":10},{"t":4485.5,"v":30},{"t":4486,"v":21},{"t":4487,"v":18},
{"t":4488,"v":14},{"t":4489,"v":12},{"t":4490,"v":10.5},{"t":4491,"v":10},{"t":4493.5,"v":8},{"t":4494,"v":5},{"t":4494.5,"v":3},{"t":4495,"v":1},{"t":4495.5,"v":0},{"t":4505.5,"v":3},{"t":4506,"v":4.5},{"t":4506.5,"v":5},{"t":4507.5,"v":5.5},{"t":4508,"v":6},{"t":4508.5,"v":8},{"t":4509,"v":29},{"t":4510,"v":24.8},{"t":4511,"v":21},{"t":4512,"v":20}],
"bTG":[{"t":4344,"v":0},{"t":4353.5,"v":0},{"t":4354,"v":5},{"t":4354.5,"v":12},{"t":4355,"v":15.5},{"t":4355.5,"v":17.5},{"t":4356,"v":18.5},{"t":4356.5,"v":19.4},{"t":4357,"v":17},{"t":4357.5,"v":10},{"t":4358,"v":48},{"t":4358.5,"v":40},{"t":4359,"v":31},{"t":4359.5,"v":24},{"t":4360,"v":16},{"t":4360.5,"v":6},{"t":4361,"v":0},
{"t":4377.5,"v":0},{"t":4378,"v":5},{"t":4378.5,"v":12.5},{"t":4379,"v":16.5},{"t":4379.5,"v":18},{"t":4380,"v":18.5},{"t":4380.5,"v":18.5},{"t":4381,"v":50},{"t":4381.5,"v":47.5},{"t":4382,"v":40.5},{"t":4382.5,"v":33},{"t":4383,"v":26},{"t":4383.5,"v":19.5},{"t":4384,"v":14},{"t":4384.5,"v":8},{"t":4385,"v":1},{"t":4385.5,"v":0},
{"t":4425,"v":0},{"t":4425.5,"v":5},{"t":4426,"v":14},{"t":4426.5,"v":22},{"t":4427,"v":26},{"t":4427.5,"v":27},{"t":4428,"v":18},{"t":4428.5,"v":8},{"t":4429,"v":0},{"t":4429.5,"v":46.5},{"t":4430,"v":37},{"t":4430.5,"v":27},{"t":4431,"v":16},{"t":4431.5,"v":7},{"t":4432,"v":1.5},{"t":4432.5,"v":0},
{"t":4496.5,"v":0},{"t":4497,"v":3},{"t":4497.5,"v":14},{"t":4498,"v":19.5},{"t":4498.5,"v":21.5},{"t":4499,"v":21},{"t":4499.5,"v":18},{"t":4500,"v":12},{"t":4500.5,"v":8},{"t":4501,"v":51},{"t":4501.5,"v":40},{"t":4502,"v":30.5},{"t":4502.5,"v":21.5},{"t":4503,"v":12},{"t":4503.5,"v":3},{"t":4504,"v":0},{"t":4512,"v":0}],
"bS":[{"t":4344,"v":10},{"t":4351.5,"v":10},{"t":4352,"v":11},{"t":4352.5,"v":14},{"t":4353,"v":19},{"t":4353.5,"v":29},{"t":4354,"v":39},{"t":4354.5,"v":48},{"t":4355,"v":57},{"t":4355.5,"v":66},{"t":4356,"v":75.5},{"t":4356.5,"v":84},{"t":4357,"v":91},{"t":4357.5,"v":97},{"t":4358,"v":100},{"t":4361,"v":100},{"t":4361.5,"v":96},{"t":4362,"v":89},{"t":4362.5,"v":82},{"t":4363,"v":71},{"t":4363.5,"v":60},{"t":4364,"v":50},{"t":4364.5,"v":39.5},{"t":4365,"v":30},{"t":4365.5,"v":22},{"t":4366,"v":15},{"t":4366.5,"v":10},
{"t":4376,"v":10},{"t":4376.5,"v":14},{"t":4377,"v":23},{"t":4377.5,"v":33},{"t":4378,"v":43},{"t":4378.5,"v":51},{"t":4379,"v":60},{"t":4379.5,"v":69},{"t":4380,"v":78},{"t":4380.5,"v":88},{"t":4381,"v":96},{"t":4381.5,"v":100},{"t":4385.5,"v":100},{"t":4386,"v":96},{"t":4386.5,"v":86},{"t":4387,"v":76},{"t":4387.5,"v":63},{"t":4388,"v":48},{"t":4388.5,"v":36},{"t":4389,"v":26},{"t":4389.5,"v":17},{"t":4390,"v":11},{"t":4390.5,"v":10},
{"t":4400.5,"v":10},{"t":4401,"v":11},{"t":4401.5,"v":14},{"t":4402,"v":18},{"t":4402.5,"v":23},{"t":4403,"v":27},{"t":4403.5,"v":30},{"t":4404,"v":32},{"t":4404.5,"v":33.5},{"t":4405,"v":35},{"t":4405.5,"v":39},{"t":4406,"v":43},{"t":4406.5,"v":47.5},{"t":4407,"v":51.5},{"t":4407.5,"v":53.5},{"t":4408,"v":53.5},{"t":4408.5,"v":50.5},{"t":4409,"v":46},{"t":4409.5,"v":37},{"t":4410,"v":27},{"t":4410.5,"v":17},{"t":4411,"v":11},{"t":4411.5,"v":10},
{"t":4423.5,"v":10},{"t":4424,"v":11},{"t":4424.5,"v":16},{"t":4425,"v":22},{"t":4425.5,"v":32},{"t":4426,"v":42},{"t":4426.5,"v":51},{"t":4427,"v":60},{"t":4427.5,"v":69},{"t":4428,"v":78},{"t":4428.5,"v":87},{"t":4429,"v":97},{"t":4429.5,"v":100},{"t":4433,"v":100},{"t":4433.5,"v":88},{"t":4434,"v":76},{"t":4434.5,"v":67},{"t":4435,"v":59},{"t":4435.5,"v":49},{"t":4436,"v":39},{"t":4436.5,"v":29},{"t":4437,"v":20},{"t":4437.5,"v":12},{"t":4438,"v":10},
{"t":4449.5,"v":10},{"t":4450,"v":12},{"t":4450.5,"v":18},{"t":4451,"v":26},{"t":4451.5,"v":34},{"t":4452,"v":41},{"t":4452.5,"v":47},{"t":4453,"v":53},{"t":4453.5,"v":58},{"t":4454,"v":65},{"t":4454.5,"v":73},{"t":4455,"v":80},{"t":4455.5,"v":87},{"t":4456,"v":93},{"t":4456.5,"v":95},{"t":4457,"v":91},{"t":4457.5,"v":84},{"t":4458,"v":76},{"t":4458.5,"v":67},{"t":4459,"v":56},{"t":4459.5,"v":45},{"t":4460,"v":34},{"t":4460.5,"v":25},{"t":4461,"v":15},{"t":4461.5,"v":10},
{"t":4472,"v":10},{"t":4472.5,"v":12},{"t":4473,"v":15},{"t":4473.5,"v":19},{"t":4474,"v":22},{"t":4474.5,"v":30},{"t":4475,"v":38},{"t":4475.5,"v":46},{"t":4476,"v":54},{"t":4476.5,"v":62},{"t":4477,"v":70},{"t":4477.5,"v":77},{"t":4478,"v":82},{"t":4478.5,"v":87},{"t":4479,"v":90.5},{"t":4479.5,"v":92.5},{"t":4480,"v":93},{"t":4480.5,"v":89},{"t":4481,"v":83},{"t":4481.5,"v":74},{"t":4482,"v":63},{"t":4482.5,"v":55},{"t":4483,"v":46},{"t":4483.5,"v":36},{"t":4484,"v":26},{"t":4484.5,"v":17},{"t":4485,"v":10},
{"t":4495,"v":10},{"t":4495.5,"v":11},{"t":4496,"v":13},{"t":4496.5,"v":22},{"t":4497,"v":31},{"t":4497.5,"v":40},{"t":4498,"v":50},{"t":4498.5,"v":60},{"t":4499,"v":69},{"t":4499.5,"v":79},{"t":4500,"v":89},{"t":4500.5,"v":97},{"t":4501,"v":100},{"t":4504.5,"v":100},{"t":4505,"v":90},{"t":4505.5,"v":79},{"t":4506,"v":66},{"t":4506.5,"v":54},{"t":4507,"v":43},{"t":4507.5,"v":33},{"t":4508,"v":25},{"t":4508.5,"v":17},{"t":4509,"v":11},{"t":4509.5,"v":10},{"t":4512,"v":10}]
},
"vconcat":[
{
"width":940,"height":277,
"title":{"text":"(a)","orient":"bottom","fontSize":26,"fontWeight":"normal","color":"#000","offset":18},
"encoding":{"x":{"field":"t","type":"quantitative","scale":{"domain":[504,672],"nice":false,"zero":false},"axis":{"values":[504,528,552,576,600,624,648,672],"format":"d","title":"Time [h]","grid":true,"labelPadding":6,"titlePadding":7}}},
"layer":[
{"encoding":{"y":{"field":"v","type":"quantitative","scale":{"domain":[0,90],"nice":false,"zero":false},"axis":{"orient":"left","values":[0,10,20,30,40,50,60,70,80,90],"title":"Power [kW]","grid":true,"labelPadding":6,"titlePadding":6}}},
"layer":[
{"data":{"values":[{"t":504,"t2":528,"v":0,"v2":90}]},"mark":{"type":"rect","fill":"#fcefdf","fillOpacity":0.75,"stroke":"#000","strokeWidth":2.5},"encoding":{"x2":{"field":"t2"},"y2":{"field":"v2"}}},
{"data":{"name":"aL"},"mark":{"type":"line","interpolate":"step-after","strokeWidth":2},"encoding":{"color":{"datum":"Electric Load","scale":{"domain":["Electric Load","Electric Production","From Battery","To Battery","From Grid","To Grid","SoC"],"range":["#000000","#ee1d23","#1e6fbd","#f5ab84","#c9961a","#8dc455","#8ea6d8"]},"legend":{"orient":"none","legendX":37,"legendY":-35,"direction":"horizontal","columns":7,"title":null,"symbolType":"stroke","symbolSize":300,"symbolStrokeWidth":2.5,"columnPadding":19,"labelOffset":2}},"strokeDash":{"datum":"Electric Load","scale":{"domain":["Electric Load","Electric Production","From Battery","To Battery","From Grid","To Grid","SoC"],"range":[[6,5],[1,0],[1,0],[1,0],[6,5],[1,0],[1,0]]},"legend":{"orient":"none","legendX":37,"legendY":-35,"direction":"horizontal","columns":7,"title":null,"symbolType":"stroke","symbolSize":300,"symbolStrokeWidth":2.5,"columnPadding":19,"labelOffset":2}}}},
{"data":{"name":"aP"},"mark":{"type":"line","interpolate":"monotone","strokeWidth":2},"encoding":{"color":{"datum":"Electric Production"},"strokeDash":{"datum":"Electric Production"}}},
{"data":{"name":"aFB"},"mark":{"type":"line","interpolate":"monotone","strokeWidth":2.2},"encoding":{"color":{"datum":"From Battery"},"strokeDash":{"datum":"From Battery"}}},
{"data":{"name":"aTB"},"mark":{"type":"line","interpolate":"monotone","strokeWidth":1.8},"encoding":{"color":{"datum":"To Battery"},"strokeDash":{"datum":"To Battery"}}},
{"data":{"name":"aFG"},"mark":{"type":"line","interpolate":"step-after","strokeWidth":2,"strokeDashOffset":5.5},"encoding":{"color":{"datum":"From Grid"},"strokeDash":{"datum":"From Grid"}}},
{"data":{"name":"aTG"},"mark":{"type":"line","interpolate":"monotone","strokeWidth":2},"encoding":{"color":{"datum":"To Grid"},"strokeDash":{"datum":"To Grid"}}}
]},
{"data":{"name":"aS"},"mark":{"type":"line","interpolate":"monotone","strokeWidth":2},"encoding":{"y":{"field":"v","type":"quantitative","scale":{"domain":[-150,100],"nice":false,"zero":false},"axis":{"orient":"right","values":[-150,-100,-50,0,50,100],"title":"SoC [%]","grid":false,"labelPadding":8,"titlePadding":8,"titleAngle":270}},"color":{"datum":"SoC"},"strokeDash":{"datum":"SoC"}}}
],
"resolve":{"scale":{"y":"independent"}}
},
{
"width":940,"height":277,
"title":{"text":"(b)","orient":"bottom","fontSize":26,"fontWeight":"normal","color":"#000","offset":18},
"encoding":{"x":{"field":"t","type":"quantitative","scale":{"domain":[4344,4512],"nice":false,"zero":false},"axis":{"values":[4344,4368,4392,4416,4440,4464,4488,4512],"format":"d","title":"Time [h]","grid":true,"labelPadding":6,"titlePadding":7}}},
"layer":[
{"encoding":{"y":{"field":"v","type":"quantitative","scale":{"domain":[0,90],"nice":false,"zero":false},"axis":{"orient":"left","values":[0,10,20,30,40,50,60,70,80,90],"title":"Power [kW]","grid":true,"labelPadding":6,"titlePadding":6}}},
"layer":[
{"data":{"values":[{"t":4344,"t2":4368,"v":0,"v2":90}]},"mark":{"type":"rect","fill":"#fcefdf","fillOpacity":0.75,"stroke":"#000","strokeWidth":2.5},"encoding":{"x2":{"field":"t2"},"y2":{"field":"v2"}}},
{"data":{"name":"bL"},"mark":{"type":"line","interpolate":"step-after","strokeWidth":2},"encoding":{"color":{"datum":"Electric Load","scale":{"domain":["Electric Load","Electric Production","From Battery","To Battery","From Grid","To Grid","SoC"],"range":["#000000","#ee1d23","#1e6fbd","#f5ab84","#c9961a","#8dc455","#8ea6d8"]},"legend":{"orient":"none","legendX":37,"legendY":-35,"direction":"horizontal","columns":7,"title":null,"symbolType":"stroke","symbolSize":300,"symbolStrokeWidth":2.5,"columnPadding":19,"labelOffset":2}},"strokeDash":{"datum":"Electric Load","scale":{"domain":["Electric Load","Electric Production","From Battery","To Battery","From Grid","To Grid","SoC"],"range":[[6,5],[1,0],[1,0],[1,0],[6,5],[1,0],[1,0]]},"legend":{"orient":"none","legendX":37,"legendY":-35,"direction":"horizontal","columns":7,"title":null,"symbolType":"stroke","symbolSize":300,"symbolStrokeWidth":2.5,"columnPadding":19,"labelOffset":2}}}},
{"data":{"name":"bP"},"mark":{"type":"line","interpolate":"monotone","strokeWidth":2},"encoding":{"color":{"datum":"Electric Production"},"strokeDash":{"datum":"Electric Production"}}},
{"data":{"name":"bFB"},"mark":{"type":"line","interpolate":"monotone","strokeWidth":2.2},"encoding":{"color":{"datum":"From Battery"},"strokeDash":{"datum":"From Battery"}}},
{"data":{"name":"bTB"},"mark":{"type":"line","interpolate":"monotone","strokeWidth":1.8},"encoding":{"color":{"datum":"To Battery"},"strokeDash":{"datum":"To Battery"}}},
{"data":{"name":"bFG"},"mark":{"type":"line","interpolate":"step-after","strokeWidth":2,"strokeDashOffset":5.5},"encoding":{"color":{"datum":"From Grid"},"strokeDash":{"datum":"From Grid"}}},
{"data":{"name":"bTG"},"mark":{"type":"line","interpolate":"monotone","strokeWidth":2},"encoding":{"color":{"datum":"To Grid"},"strokeDash":{"datum":"To Grid"}}}
]},
{"data":{"name":"bS"},"mark":{"type":"line","interpolate":"monotone","strokeWidth":2},"encoding":{"y":{"field":"v","type":"quantitative","scale":{"domain":[-150,100],"nice":false,"zero":false},"axis":{"orient":"right","values":[-150,-100,-50,0,50,100],"title":"SoC [%]","grid":false,"labelPadding":8,"titlePadding":8,"titleAngle":270}},"color":{"datum":"SoC"},"strokeDash":{"datum":"SoC"}}}
],
"resolve":{"scale":{"y":"independent"}}
}
]
}
